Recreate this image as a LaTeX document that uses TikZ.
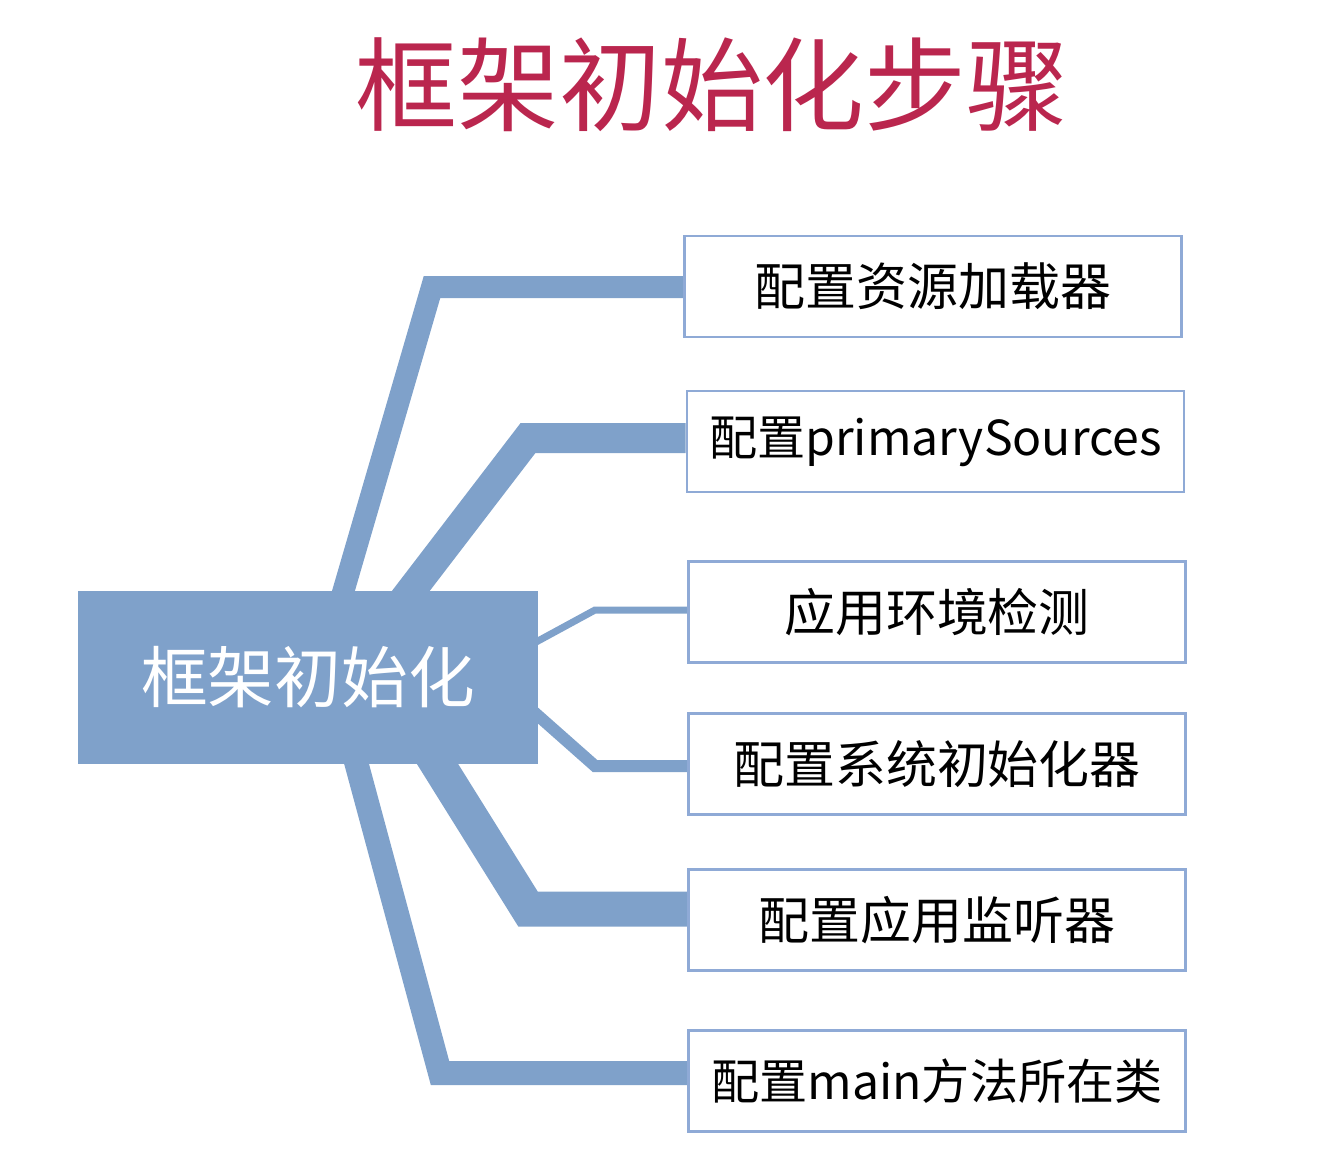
\documentclass[tikz,border=0pt]{standalone}
\usepackage{fontspec}
\setmainfont{Noto Sans CJK SC}
\usetikzlibrary{calc,backgrounds}
\definecolor{titelrot}{RGB}{186,38,78}
\definecolor{astblau}{RGB}{127,161,202}
\definecolor{randblau}{RGB}{143,170,214}
\tikzset{
	kasten/.style={rectangle,draw=randblau,line width=0.05cm,fill=white,minimum width=9.95cm,minimum height=2.02cm,inner sep=0pt,font=\fontsize{29}{32}\selectfont},
	ast/.style={draw=astblau,line join=miter,line cap=butt},
}
\begin{document}
\begin{tikzpicture}[x=0.02cm,y=-0.02cm]
	\useasboundingbox (0,0) rectangle (1324,1160);
	\node[text=titelrot,font=\fontsize{58}{60}\selectfont] (titel) at (712,85) {框架初始化步骤};
	%
	\node[rectangle,fill=astblau,minimum width=9.2cm,minimum height=3.46cm,text=white,font=\fontsize{38}{40}\selectfont] (init) at (308,677.5) {框架初始化};
	%
	\node[kasten] (s1) at (933,286.5) {配置资源加载器};
	\node[kasten,font=\fontsize{27.4}{30}\selectfont] (s2) at (935.5,441.5) {配置primarySources};
	\node[kasten] (s3) at (937,612) {应用环境检测};
	\node[kasten] (s4) at (937,764) {配置系统初始化器};
	\node[kasten] (s5) at (937,920) {配置应用监听器};
	\node[kasten,font=\fontsize{27.4}{30}\selectfont] (s6) at (937,1081) {配置main方法所在类};
	%
	\begin{pgfonlayer}{background}
	\coordinate (k1) at (432,287);
	\coordinate (k2) at (528,438);
	\coordinate (k3) at (595,610);
	\coordinate (k4) at (595,766);
	\coordinate (k5) at (528,909);
	\coordinate (k6) at (440,1073);
	%
	\draw[ast,line width=0.44cm] ($(init.north west)+(260,20)$) -- (k1) -- (k1 -| s1.west);
	\draw[ast,line width=0.6cm] ($(init.north west)+(318,20)$) -- (k2) -- (k2 -| s2.west);
	\draw[ast,line width=0.14cm] ($(init.north east)+(-20,61)$) -- (k3) -- (k3 -| s3.west);
	\draw[ast,line width=0.24cm] ($(init.north east)+(-20,107.5)$) -- (k4) -- (k4 -| s4.west);
	\draw[ast,line width=0.7cm] ($(init.south west)+(347.6,-20)$) -- (k5) -- (k5 -| s5.west);
	\draw[ast,line width=0.48cm] ($(init.south west)+(273.6,-20)$) -- (k6) -- (k6 -| s6.west);
	\end{pgfonlayer}
\end{tikzpicture}
\end{document}
